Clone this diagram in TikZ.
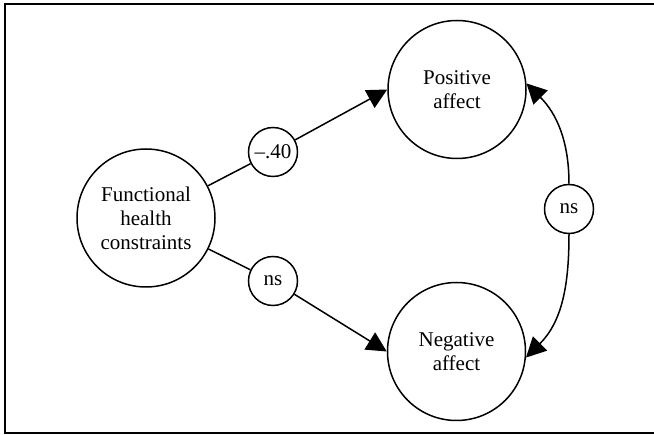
\documentclass[tikz,border=0pt]{standalone}
\usepackage{fontspec}
\setmainfont{Liberation Serif}
\usetikzlibrary{arrows.meta}
\begin{document}
\begin{tikzpicture}[x=1pt,y=-1pt,
  every node/.style={font=\fontsize{21}{24}\selectfont},
  bigcirc/.style={draw,circle,line width=1.5pt,inner sep=0pt,minimum size=138pt,align=center},
  smallcirc/.style={draw,circle,line width=1.5pt,inner sep=0pt,minimum size=49pt},
  link/.style={line width=1.5pt},
  head/.style={line width=1.5pt,-{Triangle[length=20pt,width=20pt]}},
  frameline/.style={line width=2pt}]
  \useasboundingbox (0,0) rectangle (654,435);
  % open frame (no right edge)
  \draw[frameline] (654,4) -- (5,4) -- (5,433) -- (654,433);

  % latent variables
  \node[bigcirc] (F) at (146,218) {Functional\\health\\constraints};
  \node[bigcirc] (P) at (457,89.5) {Positive\\affect};
  \node[bigcirc] (N) at (456.5,351.5) {Negative\\affect};

  % path coefficients
  \node[smallcirc] (c1) at (273,152) {--.40};
  \node[smallcirc] (c2) at (273,281) {ns};
  \node[smallcirc] (c3) at (569,209) {ns};

  % paths from functional health constraints
  \draw[link] (F) -- (c1);
  \draw[head] (c1) -- (P.west);
  \draw[link] (F) -- (c2);
  \draw[head] (c2) -- (N.west);

  % correlation between the two affect measures
  \draw[head] (c3.north) to[out=90,in=-45] (P.5);
  \draw[head] (c3.south) to[out=-90,in=45] (N.-5);
\end{tikzpicture}
\end{document}
